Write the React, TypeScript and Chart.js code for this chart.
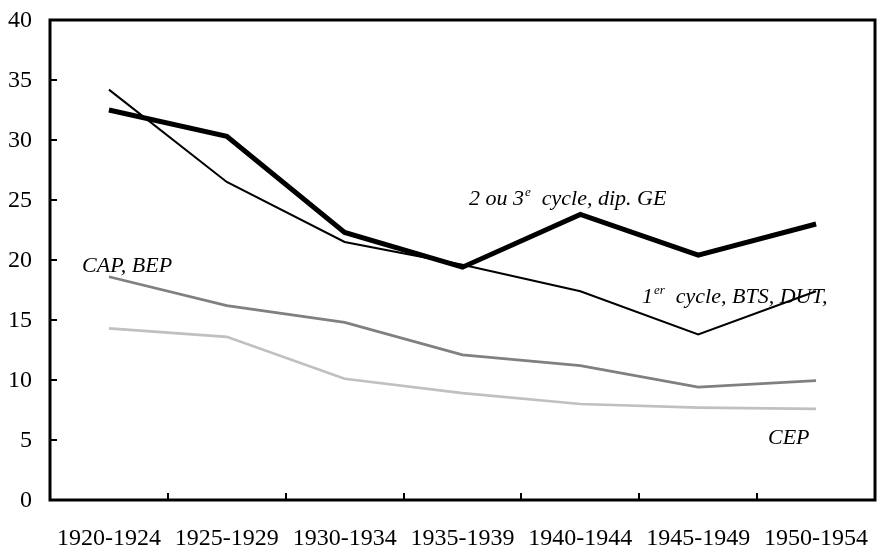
import React, { useEffect, useRef } from "react";
import { Chart, registerables } from "chart.js";

Chart.register(...registerables);

const categories = ["1920-1924", "1925-1929", "1930-1934", "1935-1939", "1940-1944", "1945-1949", "1950-1954"];
const cycle23 = [32.5, 30.3, 22.3, 19.4, 23.8, 20.4, 23.0];
const cycle1 = [34.2, 26.5, 21.5, 19.6, 17.4, 13.8, 17.4];
const capBep = [18.6, 16.2, 14.8, 12.1, 11.2, 9.4, 9.95];
const cep = [14.3, 13.6, 10.1, 8.9, 8.0, 7.7, 7.6];
const yTicks = [0, 5, 10, 15, 20, 25, 30, 35, 40];

const FONT = "'Liberation Serif', 'Times New Roman', serif";

type Part = { t: string; sup?: boolean };
const annotations: { parts: Part[]; x: number; y: number }[] = [
  { parts: [{ t: "CAP, BEP" }], x: -0.228, y: 19.0 },
  { parts: [{ t: "2 ou 3" }, { t: "e", sup: true }, { t: "  cycle, dip. GE" }], x: 3.055, y: 24.58 },
  { parts: [{ t: "1" }, { t: "er", sup: true }, { t: "  cycle, BTS, DUT," }], x: 4.523, y: 16.42 },
  { parts: [{ t: "CEP" }], x: 5.592, y: 4.67 },
];

const framePlugin = {
  id: "frame",
  afterDraw(chart: any) {
    const { ctx, chartArea } = chart;
    const { left, right, top, bottom } = chartArea;
    const y = chart.scales.y;
    const x = chart.scales.x;
    ctx.save();
    ctx.strokeStyle = "#000";
    ctx.lineWidth = 3;
    ctx.beginPath();
    ctx.rect(left, top, right - left, bottom - top);
    ctx.stroke();
    ctx.lineWidth = 2;
    ctx.beginPath();
    for (const v of yTicks) {
      const py = Math.round(y.getPixelForValue(v));
      if (v === 0 || v === 40) continue;
      ctx.moveTo(left, py);
      ctx.lineTo(left + 7, py);
    }
    for (let i = 1; i < categories.length; i++) {
      const px = Math.round(x.getPixelForValue(i - 0.5));
      ctx.moveTo(px, bottom);
      ctx.lineTo(px, bottom - 7);
    }
    ctx.stroke();
    // tick labels
    ctx.fillStyle = "#000";
    ctx.font = `24px ${FONT}`;
    ctx.textAlign = "right";
    ctx.textBaseline = "middle";
    for (const v of yTicks) {
      ctx.fillText(String(v), left - 18, y.getPixelForValue(v) + 1);
    }
    ctx.textAlign = "center";
    ctx.textBaseline = "alphabetic";
    categories.forEach((c, i) => {
      ctx.fillText(c, x.getPixelForValue(i), bottom + 45);
    });
    ctx.restore();
  },
  afterDatasetsDraw(chart: any) {
    const { ctx } = chart;
    const xs = chart.scales.x;
    const ys = chart.scales.y;
    ctx.save();
    ctx.fillStyle = "#000";
    ctx.textBaseline = "alphabetic";
    ctx.textAlign = "left";
    for (const a of annotations) {
      let px = xs.getPixelForValue(a.x);
      const py = ys.getPixelForValue(a.y);
      for (const p of a.parts) {
        if (p.sup) {
          ctx.font = `italic 13px ${FONT}`;
          ctx.fillText(p.t, px + 1, py - 9);
          px += ctx.measureText(p.t).width + 1;
        } else {
          ctx.font = `italic 22px ${FONT}`;
          ctx.fillText(p.t, px, py);
          px += ctx.measureText(p.t).width;
        }
      }
    }
    ctx.restore();
  },
};

export default function App() {
  const ref = useRef<HTMLCanvasElement>(null);
  useEffect(() => {
    if (!ref.current) return;
    const chart = new Chart(ref.current, {
      type: "line",
      data: {
        labels: categories,
        datasets: [
          { label: "CEP", data: cep, borderColor: "#c0c0c0", borderWidth: 2.7 },
          { label: "CAP, BEP", data: capBep, borderColor: "#808080", borderWidth: 2.7 },
          { label: "1er cycle", data: cycle1, borderColor: "#000", borderWidth: 2 },
          { label: "2 ou 3e cycle", data: cycle23, borderColor: "#000", borderWidth: 5 },
        ].map((d) => ({ ...d, pointRadius: 0, tension: 0, fill: false })),
      },
      options: {
        animation: false,
        responsive: false,
        maintainAspectRatio: false,
        layout: { padding: { top: 20, right: 2, left: 0, bottom: 0 } },
        plugins: { legend: { display: false }, tooltip: { enabled: false } },
        scales: {
          x: {
            offset: true,
            grid: { display: false },
            border: { display: false },
            ticks: { display: false },
            afterFit: (s: any) => { s.height = 48; },
          },
          y: {
            min: 0,
            max: 40,
            grid: { display: false },
            border: { display: false },
            ticks: { display: false, stepSize: 5 },
            afterFit: (s: any) => { s.width = 50; },
          },
        },
      },
      plugins: [framePlugin],
    });
    return () => chart.destroy();
  }, []);
  return (
    <div style={{ position: "absolute", left: 0, top: 0, width: 877, height: 548, background: "#fff" }}>
      <canvas ref={ref} width={877} height={548} style={{ width: 877, height: 548 }} />
    </div>
  );
}
